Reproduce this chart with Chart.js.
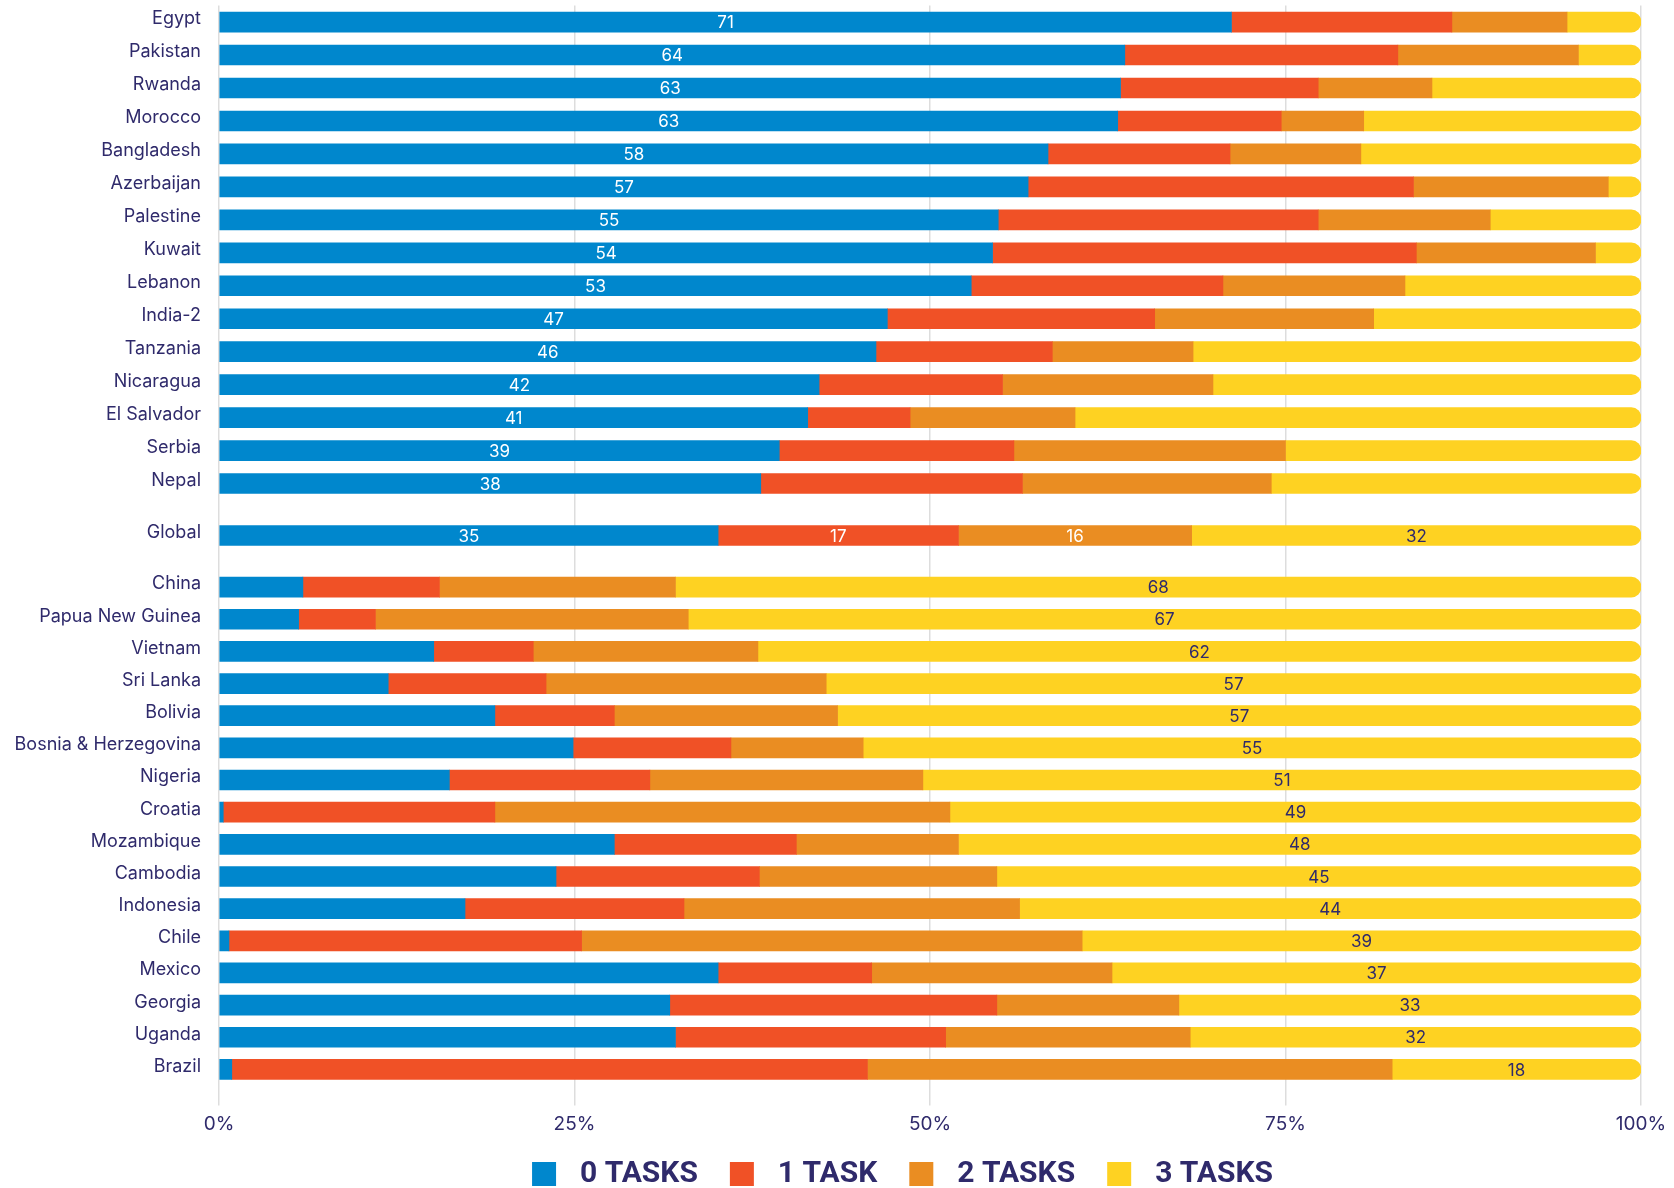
<!DOCTYPE html>
<html>
<head>
<meta charset="utf-8">
<title>Tasks completed by country</title>
<script src="https://cdn.jsdelivr.net/npm/chart.js@4.4.1/dist/chart.umd.min.js"></script>
<style>
  html, body { margin: 0; padding: 0; background: #fff; overflow: hidden; }
  #wrap { position: relative; width: 1674px; height: 1188px; overflow: hidden; }
  #wrap canvas { position: absolute; left: 0; }
</style>
</head>
<body>
<div id="wrap">
  <canvas id="chartTop" width="1674" height="500" style="top:0"></canvas>
  <canvas id="chartGlobal" width="1674" height="71" style="top:500px"></canvas>
  <canvas id="chartBottom" width="1783" height="628" style="top:571px"></canvas>
</div>
<script>
/* ------------------------------------------------------------------ */
/*  Data (percent of respondents by number of tasks)                  */
/* ------------------------------------------------------------------ */

var SERIES_NAMES = ['0 TASKS', '1 TASK', '2 TASKS', '3 TASKS'];

var TOP_COUNTRIES = ['Egypt', 'Pakistan', 'Rwanda', 'Morocco', 'Bangladesh',
  'Azerbaijan', 'Palestine', 'Kuwait', 'Lebanon', 'India-2', 'Tanzania',
  'Nicaragua', 'El Salvador', 'Serbia', 'Nepal'];
var TOP_TASKS_0 = [71.2, 63.7, 63.4, 63.2, 58.3, 56.9, 54.8, 54.4, 52.9, 47.0, 46.2, 42.2, 41.4, 39.4, 38.1];
var TOP_TASKS_1 = [15.5, 19.2, 13.9, 11.5, 12.8, 27.1, 22.5, 29.8, 17.7, 18.8, 12.4, 12.9, 7.2, 16.5, 18.4];
var TOP_TASKS_2 = [8.1, 12.7, 8.0, 5.8, 9.2, 13.7, 12.1, 12.6, 12.8, 15.4, 9.9, 14.8, 11.6, 19.1, 17.5];
var TOP_TASKS_3 = [5.2, 4.4, 14.7, 19.5, 19.7, 2.3, 10.6, 3.2, 16.6, 18.8, 31.5, 30.1, 39.8, 25.0, 26.0];

var GLOBAL_LABEL = ['Global'];
var GLOBAL_TASKS_0 = [35.1];
var GLOBAL_TASKS_1 = [16.9];
var GLOBAL_TASKS_2 = [16.4];
var GLOBAL_TASKS_3 = [31.6];

var BOTTOM_COUNTRIES = ['China', 'Papua New Guinea', 'Vietnam', 'Sri Lanka',
  'Bolivia', 'Bosnia & Herzegovina', 'Nigeria', 'Croatia', 'Mozambique',
  'Cambodia', 'Indonesia', 'Chile', 'Mexico', 'Georgia', 'Uganda', 'Brazil'];
var BOTTOM_TASKS_0 = [5.9, 5.6, 15.1, 11.9, 19.4, 24.9, 16.2, 0.3, 27.8, 23.7, 17.3, 0.7, 35.1, 31.7, 32.1, 0.9];
var BOTTOM_TASKS_1 = [9.6, 5.4, 7.0, 11.1, 8.4, 11.1, 14.1, 19.1, 12.8, 14.3, 15.4, 24.8, 10.8, 23.0, 19.0, 44.7];
var BOTTOM_TASKS_2 = [16.6, 22.0, 15.8, 19.7, 15.7, 9.3, 19.2, 32.0, 11.4, 16.7, 23.6, 35.2, 16.9, 12.8, 17.2, 36.9];
var BOTTOM_TASKS_3 = [67.9, 67.0, 62.1, 57.3, 56.5, 54.7, 50.5, 48.6, 48.0, 45.3, 43.7, 39.3, 37.2, 32.5, 31.7, 17.5];

var X_TICKS = [0, 25, 50, 75, 100];

/* ------------------------------------------------------------------ */
/*  Styling                                                           */
/* ------------------------------------------------------------------ */

var COLORS = ['#0087cd', '#f05126', '#ea8d22', '#fed222'];
var NAVY = '#2f2a6b';
var GRID = '#dddddd';
var FONT_FAMILY = 'Inter, Roboto, "Liberation Sans", sans-serif';
var LEGEND_FONT = { family: 'Roboto, "Liberation Sans", sans-serif', size: 30, weight: 'bold' };

/** Legend swatch: a 24px square with some blank room on both sides. */
function makeSwatch(color) {
  var c = document.createElement('canvas');
  c.width = 55;
  c.height = 24;
  var g = c.getContext('2d');
  g.fillStyle = color;
  g.fillRect(22, 0, 24, 24);
  return c;
}
var LEGEND_SWATCHES = COLORS.map(makeSwatch);

/* ------------------------------------------------------------------ */
/*  Segment value labels                                              */
/* ------------------------------------------------------------------ */

var segmentLabels = {
  id: 'segmentLabels',
  afterDatasetsDraw: function (chart, args, opts) {
    var ctx = chart.ctx;
    ctx.save();
    ctx.font = '17px ' + FONT_FAMILY;
    ctx.textAlign = 'center';
    ctx.textBaseline = 'middle';
    (opts.datasets || []).forEach(function (di) {
      var values = chart.data.datasets[di].data;
      chart.getDatasetMeta(di).data.forEach(function (bar, i) {
        var p = bar.getProps(['x', 'y', 'base'], true);
        ctx.fillStyle = di === 3 ? NAVY : '#ffffff';
        ctx.fillText(String(Math.round(values[i])), (p.x + p.base) / 2, p.y + 1);
      });
    });
    ctx.restore();
  }
};

/* ------------------------------------------------------------------ */
/*  Chart building                                                    */
/* ------------------------------------------------------------------ */

function buildDatasets(series) {
  return series.map(function (values, i) {
    return {
      label: SERIES_NAMES[i],
      data: values,
      backgroundColor: COLORS[i],
      barThickness: 20,
      borderRadius: i === 3 ? { topLeft: 0, bottomLeft: 0, topRight: 10, bottomRight: 10 } : 0,
      borderSkipped: 'start'
    };
  });
}

function makeChart(canvasId, labels, series, opts) {
  var withAxis = !!opts.axis;
  var config = {
    type: 'bar',
    data: { labels: labels, datasets: buildDatasets(series) },
    options: {
      indexAxis: 'y',
      responsive: false,
      animation: false,
      layout: { padding: opts.padding },
      scales: {
        x: {
          stacked: true,
          min: 0,
          max: 100,
          afterBuildTicks: function (scale) {
            scale.ticks = X_TICKS.map(function (v) { return { value: v }; });
          },
          border: { display: false },
          grid: { color: GRID, lineWidth: 1.5, drawTicks: withAxis, tickLength: 20 },
          ticks: {
            display: withAxis,
            color: NAVY,
            padding: 7,
            font: { family: FONT_FAMILY, size: 19 },
            maxRotation: 0,
            callback: function (v) { return v + '%'; }
          },
          afterFit: function (scale) {
            if (withAxis) {
              scale.height = 63.5;
              scale.paddingRight = 142;
            } else {
              scale.paddingRight = 0;
            }
            scale.paddingLeft = 0;
          }
        },
        y: {
          stacked: true,
          border: { display: false },
          grid: { display: false, drawTicks: false },
          ticks: { color: NAVY, padding: 18, labelOffset: -3, font: { family: FONT_FAMILY, size: 18 } },
          afterFit: function (scale) {
            scale.width = 219;
            scale.paddingTop = 0;
            scale.paddingBottom = 0;
          }
        }
      },
      plugins: {
        tooltip: { enabled: false },
        segmentLabels: { datasets: opts.labelled },
        legend: {
          display: withAxis,
          position: 'bottom',
          labels: {
            color: NAVY,
            font: LEGEND_FONT,
            usePointStyle: true,
            pointStyleWidth: 55,
            boxHeight: 24,
            padding: 10,
            generateLabels: function (chart) {
              var items = Chart.defaults.plugins.legend.labels.generateLabels(chart);
              items.forEach(function (item, i) { item.pointStyle = LEGEND_SWATCHES[i]; });
              return items;
            }
          }
        }
      }
    },
    plugins: [segmentLabels]
  };
  return new Chart(document.getElementById(canvasId).getContext('2d'), config);
}

makeChart('chartTop', TOP_COUNTRIES,
  [TOP_TASKS_0, TOP_TASKS_1, TOP_TASKS_2, TOP_TASKS_3],
  { padding: { top: 5.6, right: 33, bottom: 0, left: 0 }, labelled: [0] });

makeChart('chartGlobal', GLOBAL_LABEL,
  [GLOBAL_TASKS_0, GLOBAL_TASKS_1, GLOBAL_TASKS_2, GLOBAL_TASKS_3],
  { padding: { top: 0, right: 33, bottom: 0, left: 0 }, labelled: [0, 1, 2, 3] });

makeChart('chartBottom', BOTTOM_COUNTRIES,
  [BOTTOM_TASKS_0, BOTTOM_TASKS_1, BOTTOM_TASKS_2, BOTTOM_TASKS_3],
  { padding: { top: 0, right: 0, bottom: 0, left: 0 }, labelled: [3], axis: true });
</script>
</body>
</html>
